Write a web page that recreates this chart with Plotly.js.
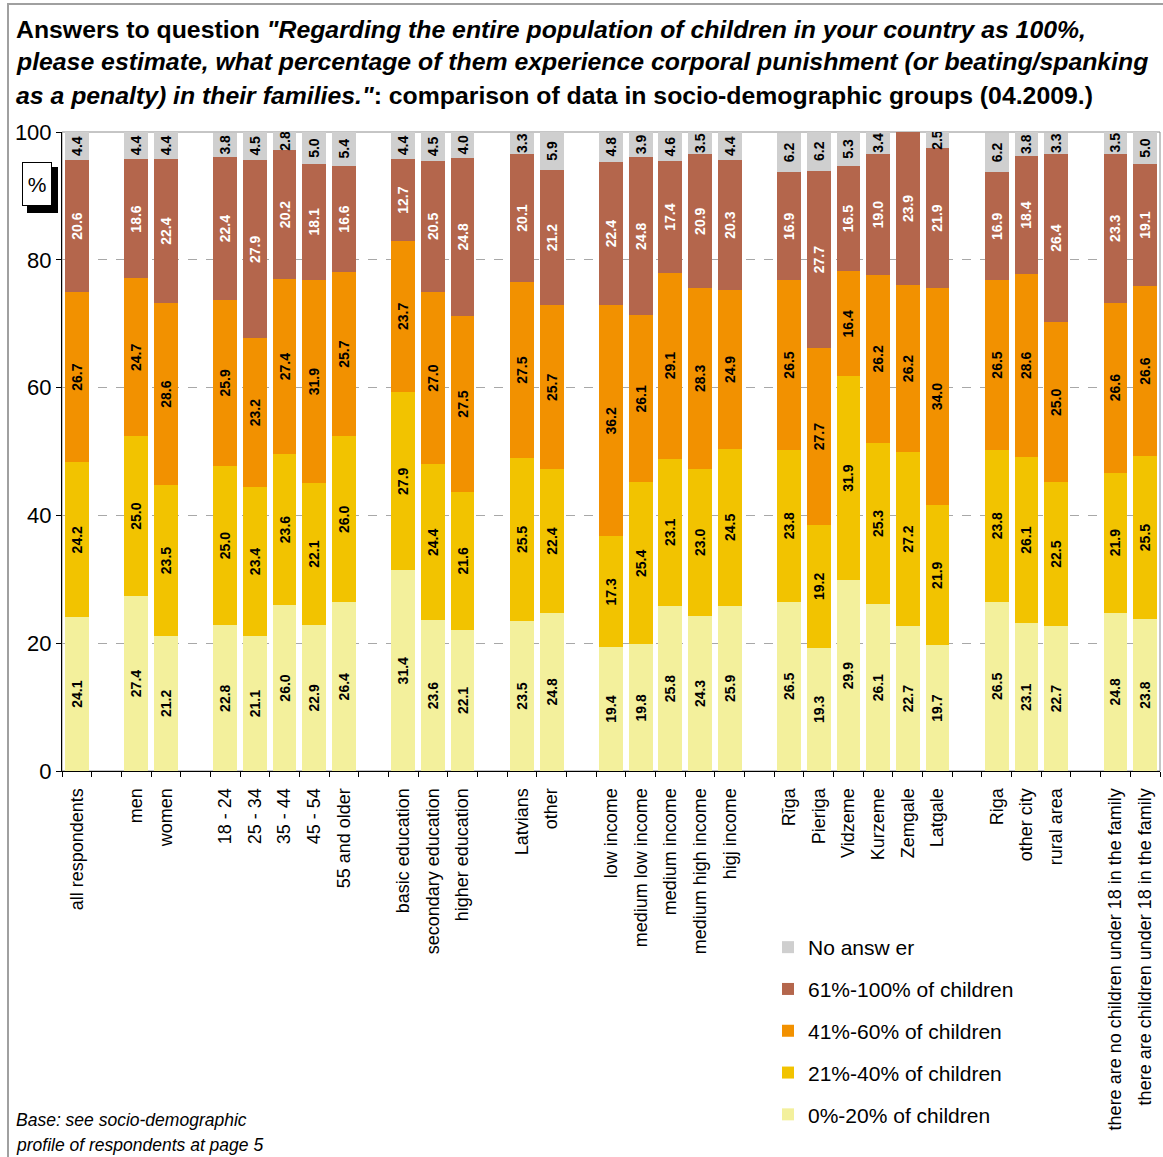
<!DOCTYPE html>
<html>
<head>
<meta charset="utf-8">
<script src="https://cdn.plot.ly/plotly-3.0.1.min.js"></script>
<style>html,body{margin:0;padding:0;background:#fff;}#chart{width:1163px;height:1157px;}</style>
</head>
<body>
<div id="chart"></div>
<script>
// Categories ('' = empty slot separating groups)
const categories = ['all respondents', '', 'men', 'women', '',
  '18 - 24', '25 - 34', '35 - 44', '45 - 54', '55 and older', '',
  'basic education', 'secondary education', 'higher education', '',
  'Latvians', 'other', '',
  'low income', 'medium low income', 'medium income', 'medium high income', 'higj income', '',
  'Rīga', 'Pieriga', 'Vidzeme', 'Kurzeme', 'Zemgale', 'Latgale', '',
  'Riga', 'other city', 'rural area', '',
  'there are no children under 18 in the family', 'there are children under 18 in the family'];

const seriesNames = ['0%-20% of children', '21%-40% of children', '41%-60% of children', '61%-100% of children', 'No answ er'];

const p0_20 = [24.1, null, 27.4, 21.2, null, 22.8, 21.1, 26.0, 22.9, 26.4, null, 31.4, 23.6, 22.1, null, 23.5, 24.8, null,
  19.4, 19.8, 25.8, 24.3, 25.9, null, 26.5, 19.3, 29.9, 26.1, 22.7, 19.7, null, 26.5, 23.1, 22.7, null, 24.8, 23.8];
const p21_40 = [24.2, null, 25.0, 23.5, null, 25.0, 23.4, 23.6, 22.1, 26.0, null, 27.9, 24.4, 21.6, null, 25.5, 22.4, null,
  17.3, 25.4, 23.1, 23.0, 24.5, null, 23.8, 19.2, 31.9, 25.3, 27.2, 21.9, null, 23.8, 26.1, 22.5, null, 21.9, 25.5];
const p41_60 = [26.7, null, 24.7, 28.6, null, 25.9, 23.2, 27.4, 31.9, 25.7, null, 23.7, 27.0, 27.5, null, 27.5, 25.7, null,
  36.2, 26.1, 29.1, 28.3, 24.9, null, 26.5, 27.7, 16.4, 26.2, 26.2, 34.0, null, 26.5, 28.6, 25.0, null, 26.6, 26.6];
const p61_100 = [20.6, null, 18.6, 22.4, null, 22.4, 27.9, 20.2, 18.1, 16.6, null, 12.7, 20.5, 24.8, null, 20.1, 21.2, null,
  22.4, 24.8, 17.4, 20.9, 20.3, null, 16.9, 27.7, 16.5, 19.0, 23.9, 21.9, null, 16.9, 18.4, 26.4, null, 23.3, 19.1];
const noAnswer = [4.4, null, 4.4, 4.4, null, 3.8, 4.5, 2.8, 5.0, 5.4, null, 4.4, 4.5, 4.0, null, 3.3, 5.9, null,
  4.8, 3.9, 4.6, 3.5, 4.4, null, 6.2, 6.2, 5.3, 3.4, null, 2.5, null, 6.2, 3.8, 3.3, null, 3.5, 5.0];

const yTicks = [0, 20, 40, 60, 80, 100];

const FONT = 'Liberation Sans, Arial, Helvetica, sans-serif';
const colors = ['#f3f09c', '#f2c300', '#f29100', '#b4664c', '#cfcfcf'];
const textColors = ['#000000', '#000000', '#000000', '#ffffff', '#000000'];
const allSeries = [p0_20, p21_40, p41_60, p61_100, noAnswer];

const xIdx = categories.map((c, i) => i);
const labelVals = xIdx.filter(i => categories[i] !== '');
const labelText = labelVals.map(i => categories[i]);
const boundaries = [];
for (let i = 0; i <= categories.length; i++) boundaries.push(i - 0.5);

const traces = allSeries.map((vals, k) => ({
  type: 'bar',
  name: seriesNames[k],
  legendgroup: 'g' + k,
  legendrank: allSeries.length - k,
  x: xIdx,
  y: vals,
  text: vals.map(v => (v === null ? '' : v.toFixed(1))),
  textposition: 'inside',
  insidetextanchor: 'middle',
  textangle: -90,
  textfont: {family: FONT, size: 14, color: textColors[k], weight: 'bold'},
  marker: {color: colors[k], line: {width: 0}},
  hoverinfo: 'name+y'
}));

// pixel -> paper helpers (plot area: x 62..1160, y 132..771)
const L = 62, T = 132, W = 1098, H = 639;
const px = p => (p - L) / W;
const py = p => (T + H - p) / H;

const layout = {
  width: 1163, height: 1157,
  margin: {l: L, r: 1163 - L - W, t: T, b: 1157 - T - H, pad: 0},
  paper_bgcolor: '#ffffff', plot_bgcolor: '#ffffff',
  barmode: 'stack', bargap: 0.2,
  font: {family: FONT, color: '#000'},
  showlegend: true,
  legend: {
    x: px(768), y: py(927), xanchor: 'left', yanchor: 'top',
    traceorder: 'grouped', tracegroupgap: 11.5, itemwidth: 30,
    font: {family: FONT, size: 21, color: '#000'},
    bgcolor: 'rgba(0,0,0,0)'
  },
  uniformtext: {minsize: 14, mode: 'show'},
  xaxis: {
    type: 'linear', range: [-0.5, categories.length - 0.5],
    tickmode: 'array', tickvals: labelVals, ticktext: labelText,
    tickangle: -90, tickfont: {family: FONT, size: 18, color: '#000'},
    ticks: '', showgrid: false, zeroline: false,
    showline: true, linecolor: '#000', linewidth: 1,
    ticklabelstandoff: 9,
    minor: {tickmode: 'array', tickvals: boundaries, ticks: 'outside', ticklen: 5, tickcolor: '#000', showgrid: false}
  },
  yaxis: {
    range: [0, 100], tickmode: 'array', tickvals: yTicks,
    tickfont: {family: FONT, size: 22, color: '#000'},
    ticks: 'outside', ticklen: 5, tickcolor: '#000',
    showline: true, linecolor: '#000', linewidth: 1,
    showgrid: true, gridcolor: '#a8a8a8', griddash: 'dash', gridwidth: 1,
    zeroline: false
  },
  shapes: [
    {type: 'rect', xref: 'paper', yref: 'paper', x0: 0, x1: 1, y0: 0, y1: 1, line: {color: '#8c8c8c', width: 1}, layer: 'below'},
    {type: 'rect', xref: 'paper', yref: 'paper', x0: px(8), x1: px(1200), y0: py(4), y1: py(1250), line: {color: '#a0a0a0', width: 2}, layer: 'below'},
    {type: 'rect', xref: 'paper', yref: 'paper', x0: px(27), x1: px(58), y0: py(167), y1: py(213), fillcolor: '#000', line: {width: 0}, layer: 'above'}
  ],
  annotations: [
    {xref: 'paper', yref: 'paper', x: px(14), y: py(30), xanchor: 'left', yanchor: 'middle', showarrow: false,
      text: '<b>Answers to question <i>"Regarding the entire population of children in your country as 100%,</i></b>',
      font: {family: FONT, size: 24.8, color: '#000'}},
    {xref: 'paper', yref: 'paper', x: px(14), y: py(62), xanchor: 'left', yanchor: 'middle', showarrow: false,
      text: '<b><i>please estimate, what percentage of them experience corporal punishment (or beating/spanking</i></b>',
      font: {family: FONT, size: 24.8, color: '#000'}},
    {xref: 'paper', yref: 'paper', x: px(14), y: py(95), xanchor: 'left', yanchor: 'middle', showarrow: false,
      text: '<b><i>as a penalty) in their families."</i>: comparison of data in socio-demographic groups (04.2009.)</b>',
      font: {family: FONT, size: 24.8, color: '#000'}},
    {xref: 'paper', yref: 'paper', x: px(37), y: py(184), xanchor: 'center', yanchor: 'middle', showarrow: false,
      text: '%', font: {family: FONT, size: 21, color: '#000'},
      bgcolor: '#fff', bordercolor: '#000', borderwidth: 1, borderpad: 1, width: 26, height: 40},
    {xref: 'paper', yref: 'paper', x: px(14), y: py(1120), xanchor: 'left', yanchor: 'middle', showarrow: false,
      text: '<i>Base: see socio-demographic</i>', font: {family: FONT, size: 17.5, color: '#000'}},
    {xref: 'paper', yref: 'paper', x: px(14), y: py(1145), xanchor: 'left', yanchor: 'middle', showarrow: false,
      text: '<i>profile of respondents at page 5</i>', font: {family: FONT, size: 17.5, color: '#000'}}
  ]
};

Plotly.newPlot('chart', traces, layout, {displayModeBar: false, responsive: false});
</script>
</body>
</html>
